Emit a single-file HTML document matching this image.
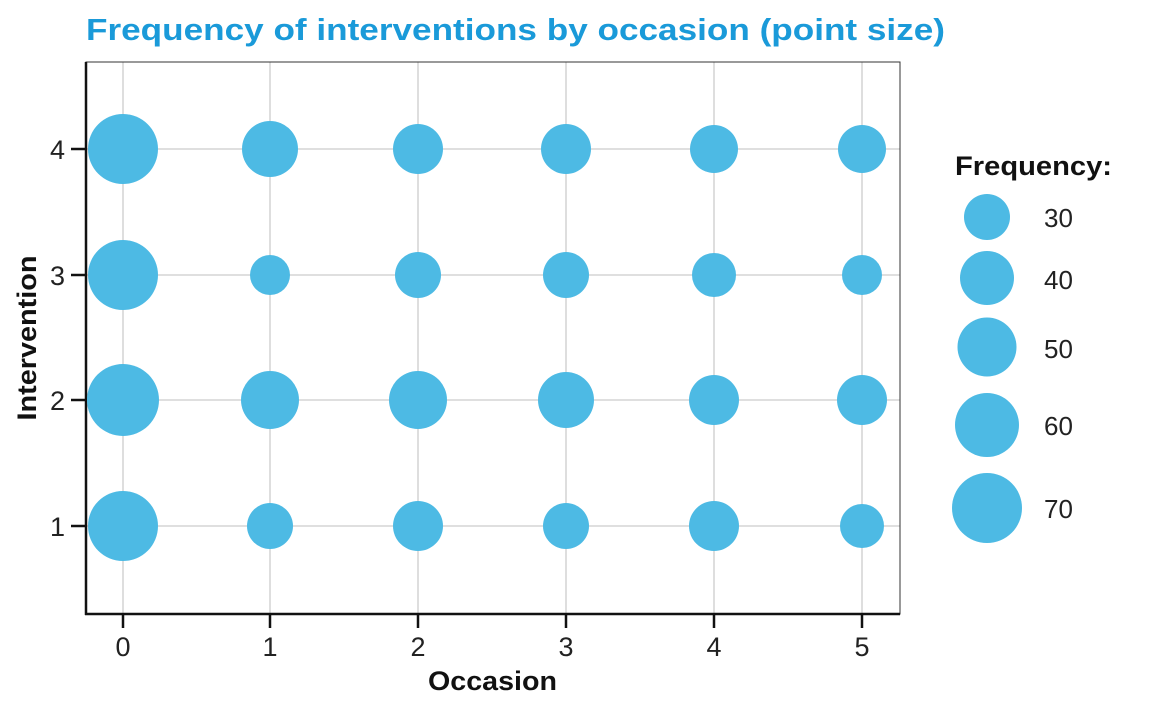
<!DOCTYPE html>
<html><head><meta charset="utf-8"><style>body{margin:0;background:#fff}svg{display:block}</style></head><body>
<svg width="1152" height="711" xmlns="http://www.w3.org/2000/svg" font-family="Liberation Sans, sans-serif">
<text x="86" y="40" font-size="31" font-weight="bold" fill="#1a9ad9" textLength="859" lengthAdjust="spacingAndGlyphs">Frequency of interventions by occasion (point size)</text>
<g stroke="#cccccc" stroke-width="1.3">
<line x1="123" y1="62" x2="123" y2="614"/><line x1="270" y1="62" x2="270" y2="614"/><line x1="418" y1="62" x2="418" y2="614"/><line x1="566" y1="62" x2="566" y2="614"/><line x1="714" y1="62" x2="714" y2="614"/><line x1="862" y1="62" x2="862" y2="614"/>
<line x1="86" y1="149" x2="900" y2="149"/><line x1="86" y1="275" x2="900" y2="275"/><line x1="86" y1="400" x2="900" y2="400"/><line x1="86" y1="526" x2="900" y2="526"/>
</g>
<rect x="86" y="62" width="814" height="552" fill="none" stroke="#333" stroke-width="1"/>
<line x1="86" y1="62" x2="86" y2="615" stroke="#111" stroke-width="2.5"/>
<line x1="85" y1="614" x2="900" y2="614" stroke="#111" stroke-width="2.5"/>
<g stroke="#111" stroke-width="2.5">
<line x1="123" y1="614" x2="123" y2="628"/><line x1="270" y1="614" x2="270" y2="628"/><line x1="418" y1="614" x2="418" y2="628"/><line x1="566" y1="614" x2="566" y2="628"/><line x1="714" y1="614" x2="714" y2="628"/><line x1="862" y1="614" x2="862" y2="628"/>
<line x1="71" y1="149" x2="86" y2="149"/><line x1="71" y1="275" x2="86" y2="275"/><line x1="71" y1="400" x2="86" y2="400"/><line x1="71" y1="526" x2="86" y2="526"/>
</g>
<g fill="#4dbae4">
<circle cx="123" cy="149" r="35"/><circle cx="270" cy="149" r="28"/><circle cx="418" cy="149" r="25"/><circle cx="566" cy="149" r="25"/><circle cx="714" cy="149" r="24"/><circle cx="862" cy="149" r="24"/>
<circle cx="123" cy="275" r="35"/><circle cx="270" cy="275" r="20"/><circle cx="418" cy="275" r="23"/><circle cx="566" cy="275" r="23"/><circle cx="714" cy="275" r="22"/><circle cx="862" cy="275" r="20"/>
<circle cx="123" cy="400" r="36"/><circle cx="270" cy="400" r="29"/><circle cx="418" cy="400" r="29"/><circle cx="566" cy="400" r="28"/><circle cx="714" cy="400" r="25"/><circle cx="862" cy="400" r="25"/>
<circle cx="123" cy="526" r="35"/><circle cx="270" cy="526" r="23"/><circle cx="418" cy="526" r="25"/><circle cx="566" cy="526" r="23"/><circle cx="714" cy="526" r="25"/><circle cx="862" cy="526" r="22"/>
<circle cx="987" cy="217" r="23"/><circle cx="987" cy="278" r="27"/><circle cx="987" cy="347" r="29.5"/><circle cx="987" cy="425" r="32"/><circle cx="987" cy="508" r="35"/>
</g>
<g font-size="27" fill="#222" text-anchor="middle">
<text x="123" y="656">0</text><text x="270" y="656">1</text><text x="418" y="656">2</text><text x="566" y="656">3</text><text x="714" y="656">4</text><text x="862" y="656">5</text>
</g>
<g font-size="27" fill="#222" text-anchor="end">
<text x="65" y="159">4</text><text x="65" y="285">3</text><text x="65" y="410">2</text><text x="65" y="536">1</text>
</g>
<text x="428" y="690" font-size="27" font-weight="bold" fill="#111" textLength="129" lengthAdjust="spacingAndGlyphs">Occasion</text>
<text transform="translate(36,338) rotate(-90)" font-size="27" font-weight="bold" fill="#111" text-anchor="middle" textLength="165" lengthAdjust="spacingAndGlyphs">Intervention</text>
<text x="955" y="175" font-size="27" font-weight="bold" fill="#111" textLength="157" lengthAdjust="spacingAndGlyphs">Frequency:</text>
<g font-size="26" fill="#222">
<text x="1044" y="227">30</text><text x="1044" y="289">40</text><text x="1044" y="358">50</text><text x="1044" y="435">60</text><text x="1044" y="518">70</text>
</g>
</svg>
</body></html>
